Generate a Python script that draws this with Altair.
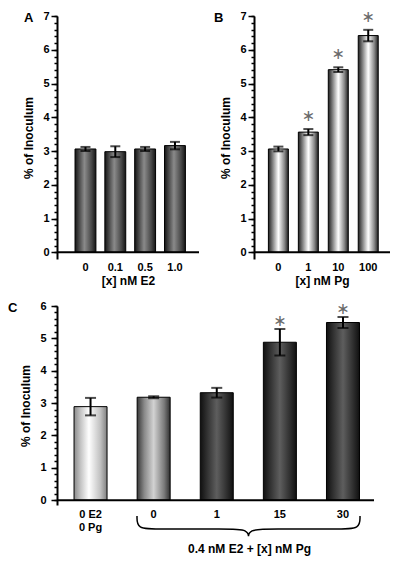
import altair as alt
import pandas as pd

# ---------------- data ----------------
a_labels = ["0", "0.1", "0.5", "1.0"]
a_values = [3.06, 2.98, 3.06, 3.16]
a_errors = [0.06, 0.16, 0.06, 0.11]
a_sig = [False, False, False, False]
a_styles = ["grey", "grey", "grey", "grey"]

b_labels = ["0", "1", "10", "100"]
b_values = [3.06, 3.56, 5.41, 6.42]
b_errors = [0.07, 0.09, 0.07, 0.17]
b_sig = [False, True, True, True]
b_styles = ["white", "white", "white", "white"]

c_labels = ["0 E2\n0 Pg", "0", "1", "15", "30"]
c_values = [2.89, 3.18, 3.32, 4.88, 5.49]
c_errors = [0.27, 0.03, 0.15, 0.41, 0.17]
c_sig = [False, False, False, True, True]
c_styles = ["light", "mid", "dark", "dark", "dark"]

ab_major = [0, 1, 2, 3, 4, 5, 6, 7]
c_major = [0, 1, 2, 3, 4, 5, 6]
ab_minor = [round(i * 0.2, 1) for i in range(36)]
c_minor = [round(i * 0.2, 1) for i in range(31)]

FONT = "Liberation Sans"


def grad(stops):
    return alt.Gradient(
        gradient="linear", x1=0, x2=1, y1=0, y2=0,
        stops=[alt.GradientStop(offset=o, color=c) for o, c in stops],
    )


FILLS = {
    "grey": grad([(0, "#151515"), (0.18, "#444444"), (0.45, "#8a8a8a"), (0.8, "#474747"), (1, "#151515")]),
    "white": grad([(0, "#202020"), (0.2, "#7a7a7a"), (0.5, "#ffffff"), (0.8, "#8a8a8a"), (1, "#202020")]),
    "light": grad([(0, "#8a8a8a"), (0.2, "#c4c4c4"), (0.45, "#ffffff"), (0.8, "#c0c0c0"), (1, "#808080")]),
    "mid": grad([(0, "#383838"), (0.22, "#8a8a8a"), (0.5, "#d2d2d2"), (0.82, "#7a7a7a"), (1, "#303030")]),
    "dark": grad([(0, "#101010"), (0.22, "#333333"), (0.5, "#5e5e5e"), (0.8, "#303030"), (1, "#101010")]),
}

TXT = dict(labelFont=FONT, labelFontWeight="bold", labelFontSize=11, labelColor="black",
           titleFont=FONT, titleFontWeight="bold", titleFontSize=12, titleColor="black")


def panel(labels, values, errors, sig, styles, letter, letter_x, ymin, ymax, minor, major,
          pin, pout, palign, cap, star_dy, xtitle, ylab_pad, ytitle_pad, x_extra=None):
    df = pd.DataFrame({"cat": labels, "val": values, "err": errors,
                       "sig": sig, "style": styles})
    base = alt.Chart(df).transform_calculate(
        lo="datum.val - datum.err", hi="datum.val + datum.err")
    xaxis = dict(domain=False, ticks=False, tickSize=0, labelAngle=0, labelPadding=2,
                 titlePadding=3, grid=False, **TXT)
    if x_extra:
        xaxis.update(x_extra)
    x = alt.X("cat:N", sort=labels, title=xtitle,
              scale=alt.Scale(paddingInner=pin, paddingOuter=pout, align=palign),
              axis=alt.Axis(**xaxis))
    ys = alt.Scale(domain=[ymin, ymax], nice=False, zero=False)
    minor_axis = alt.Axis(orient="left", values=minor, labels=False, tickSize=3,
                          tickWidth=1.5, tickColor="black", domain=True,
                          domainColor="black", domainWidth=2, grid=False)
    major_axis = alt.Axis(orient="left", values=major, format="d", tickSize=6,
                          tickWidth=1.5, tickColor="black", domain=False, grid=False,
                          labelPadding=ylab_pad, titlePadding=ytitle_pad, **TXT)

    def Yn(field):
        return alt.Y(field, scale=ys, axis=None)

    layers = []
    for i, s in enumerate(dict.fromkeys(styles)):
        y = alt.Y("val:Q", scale=ys, axis=minor_axis, title=None) if i == 0 else Yn("val:Q")
        layers.append(
            base.transform_filter(alt.datum.style == s)
            .mark_bar(fill=FILLS[s], stroke="black", strokeWidth=1)
            .encode(x=x, y=y, y2=alt.datum(0))
        )
    layers.append(
        alt.Chart(pd.DataFrame({"z": [0]})).mark_rule(color="black", strokeWidth=2)
        .encode(y=Yn("z:Q"))
    )
    layers.append(base.mark_rule(color="black", strokeWidth=2).encode(
        x=x, y=alt.Y("lo:Q", scale=ys, axis=major_axis, title="% of Inoculum"),
        y2="hi:Q"))
    for f in ["lo", "hi"]:
        layers.append(base.mark_tick(color="black", thickness=2, size=cap).encode(
            x=x, y=Yn(f"{f}:Q")))
    if any(sig):
        layers.append(
            base.transform_filter("datum.sig").mark_text(
                text="\u2217", font="DejaVu Sans", fontSize=16, color="#6a6a6a",
                baseline="middle", dy=star_dy)
            .encode(x=x, y=Yn("hi:Q")))
    layers.append(
        alt.Chart(pd.DataFrame({"t": [letter]})).mark_text(
            font=FONT, fontWeight="bold", fontSize=13, align="left",
            baseline="top", color="black")
        .encode(text="t:N", x=alt.value(letter_x), y=alt.value(-4)))
    return alt.layer(*layers).resolve_axis(y="independent")


A = panel(a_labels, a_values, a_errors, a_sig, a_styles, "A", -33, -0.2, 7,
          ab_minor, ab_major, 0.3, 0.53, 0.57, 10, -13, "[x] nM E2", 2, 7
          ).properties(width=142, height=243)
B = panel(b_labels, b_values, b_errors, b_sig, b_styles, "B", -40, -0.2, 7,
          ab_minor, ab_major, 0.333, 0.437, 0.55, 10, -13, "[x] nM Pg", 2, 7
          ).properties(width=136, height=243)

HC = 199
# decorative curly brace under the four "0.4 nM E2" bars (pixel geometry of the annotation)
brace_px_x = [80, 80, 100, 170, 191.5, 191.5, 191.5, 213, 283, 303, 303]
brace_px_y = [11, 24, 24, 24, 24, 35, 24, 24, 24, 24, 11]
brace_df = pd.DataFrame({"bx": brace_px_x, "by": [HC + v for v in brace_px_y],
                         "o": list(range(len(brace_px_x)))})
brace = alt.Chart(brace_df).mark_line(
    interpolate="basis", color="black", strokeWidth=1.5).encode(
    x=alt.X("bx:Q", scale=None, axis=None),
    y=alt.Y("by:Q", scale=None, axis=None),
    order="o:Q")

C_main = panel(c_labels, c_values, c_errors, c_sig, c_styles, "C", -49, -0.15, 6,
               c_minor, c_major, 0.477, 0.25, 0.54, 11, -8,
               "0.4 nM E2 + [x] nM Pg", 5, 7,
               x_extra=dict(labelExpr="split(datum.label, '\\n')", labelLineHeight=13,
                            labelPadding=3, titleX=192, titleY=43, titleAlign="center",
                            titleBaseline="middle"))
C = alt.layer(C_main, brace).resolve_scale(x="independent", y="independent").properties(
    width=317, height=HC)

top = alt.hconcat(A, B, spacing=14)
bottom = alt.hconcat(C)
chart = alt.vconcat(top, bottom, spacing=14).properties(
    padding={"left": 0, "top": 0, "right": 0, "bottom": 4}
).configure_view(stroke=None)

chart.save("out.html", embed_options={"renderer": "svg", "actions": False})
